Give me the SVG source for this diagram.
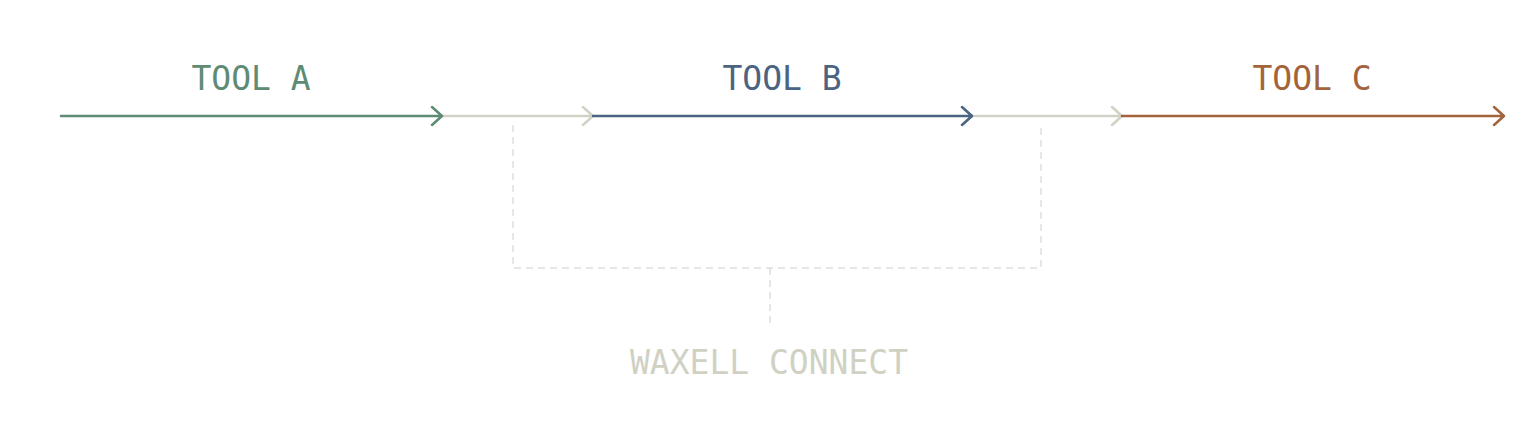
<svg xmlns="http://www.w3.org/2000/svg" width="1538" height="426" viewBox="0 0 1538 426">
<defs>
<style>
.lbl{font-family:"DejaVu Sans Mono",monospace;font-size:33px;text-anchor:middle}
.seg{fill:none;stroke-width:2.5;stroke-linecap:round;stroke-linejoin:round}
.dash{fill:none;stroke:#cdcdc6;stroke-width:1;stroke-dasharray:7 5}
</style>
</defs>
<rect width="1538" height="426" fill="#ffffff"/>
<g id="connectors">
<path class="seg" stroke="#d2d3c6" d="M442 116H593M583 107L593 116L583 125"/>
<path class="seg" stroke="#d2d3c6" d="M972 116H1122M1112 107L1122 116L1112 125"/>
<path class="dash" d="M513 125V268H1041V125"/>
<path class="dash" d="M770 268V325"/>
</g>
<g id="tool-a">
<path class="seg" stroke="#5e8b74" d="M61 116H442M432 107L442 116L432 125"/>
<text class="lbl" x="251" y="90" fill="#5e8b74">TOOL A</text>
</g>
<g id="tool-b">
<path class="seg" stroke="#4a6482" d="M593 116H972M962 107L972 116L962 125"/>
<text class="lbl" x="782" y="90" fill="#4a6482">TOOL B</text>
</g>
<g id="tool-c">
<path class="seg" stroke="#a3643c" d="M1122 116H1504M1494 107L1504 116L1494 125"/>
<text class="lbl" x="1312" y="90" fill="#a3643c">TOOL C</text>
</g>
<g id="waxell-connect">
<text class="lbl" x="769" y="374" fill="#d0d1c3">WAXELL CONNECT</text>
</g>
</svg>
